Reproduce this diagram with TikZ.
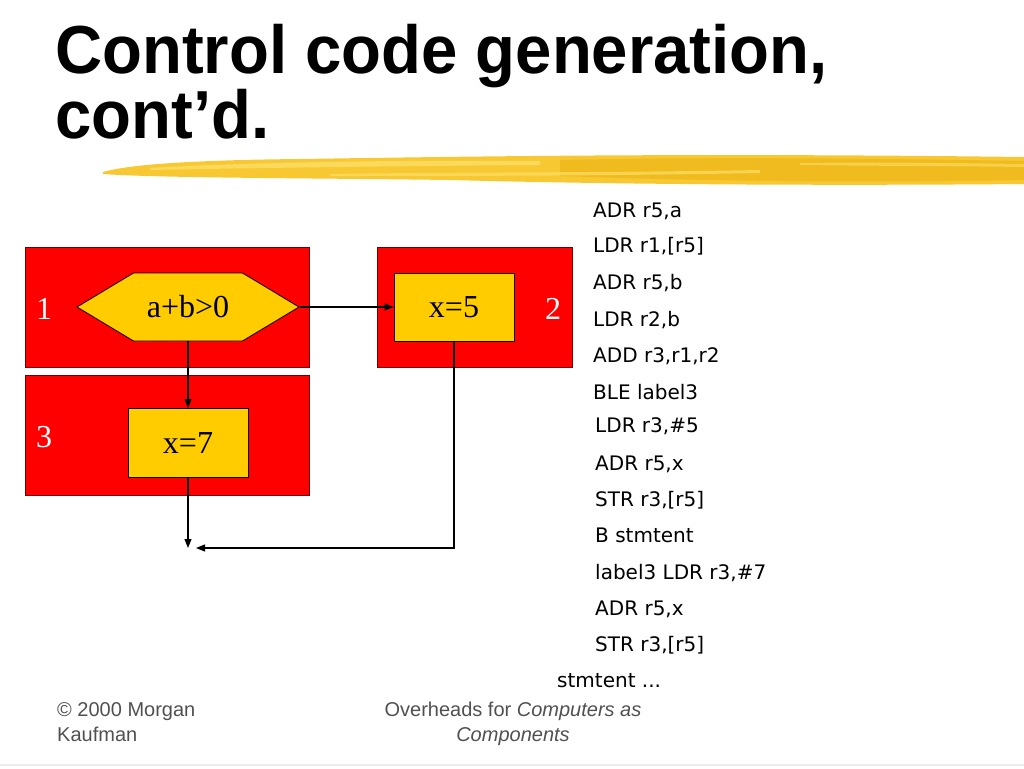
\documentclass[tikz,border=0pt]{standalone}
\usepackage{fontspec}
\setmainfont{Liberation Serif}
\newfontfamily\titlefont{Liberation Sans}
\newfontfamily\codefont{DejaVu Sans}
\usetikzlibrary{arrows.meta}
\usetikzlibrary{shapes.symbols}
\definecolor{blockred}{RGB}{255,0,0}
\definecolor{stmtyellow}{RGB}{255,204,0}
\definecolor{footgray}{RGB}{80,80,80}
\definecolor{brushbase}{RGB}{247,200,50}
\definecolor{brushlight}{RGB}{252,222,100}
\definecolor{brushdark}{RGB}{235,178,15}
\tikzstyle{block}=[fill=blockred, draw=black!55!red, line width=0.6pt, inner sep=0pt]
\tikzstyle{stmt}=[fill=stmtyellow, draw=black, line width=0.8pt, inner sep=0pt, font=\fontsize{32}{36}\selectfont]
\tikzstyle{cond}=[stmt, signal, signal to=west and east, signal pointer angle=62]
\tikzstyle{blocknum}=[text=white, inner sep=0pt, font=\fontsize{32}{36}\selectfont]
\tikzstyle{codeline}=[anchor=base west, inner sep=0pt, font=\codefont\fontsize{20}{24}\selectfont]
\tikzstyle{foot}=[inner sep=0pt, text=footgray, font=\titlefont\fontsize{20}{24}\selectfont]
\tikzstyle{heading}=[anchor=base west, inner sep=0pt, font=\titlefont\bfseries\fontsize{68}{72}\selectfont]
\tikzstyle{flow}=[line width=1.1pt, -{Triangle[length=9pt, width=7pt]}]

\begin{document}
\begin{tikzpicture}[x=1pt, y=-1pt]
    \useasboundingbox (0,0) rectangle (1024,768);
    % title and brush stroke
    \node[heading] (title1) at (55,73) {\scalebox{0.96}[1]{Control code generation,}};
    \node[heading] (title2) at (55,138) {\scalebox{0.96}[1]{cont’d.}};
    \fill[brushbase] (103,172) .. controls (130,164) and (200,160) .. (300,159) .. controls (500,156) and (700,153) .. (1024,157) -- (1024,184) .. controls (800,186) and (600,184) .. (450,180) .. controls (300,178) and (160,178) .. (103,174) -- cycle;
    \fill[brushdark, opacity=0.55] (560,160) .. controls (700,157) and (850,158) .. (1024,161) -- (1024,180) .. controls (850,183) and (700,181) .. (560,176) -- cycle;
    \fill[brushlight, opacity=0.8] (150,168) .. controls (250,162) and (400,160) .. (540,161) -- (540,165) .. controls (400,166) and (250,168) .. (150,170) -- cycle;
    \fill[brushlight, opacity=0.7] (330,174) .. controls (450,172) and (600,173) .. (760,170) -- (760,173) .. controls (600,176) and (450,176) .. (330,176) -- cycle;
    \fill[brushlight, opacity=0.6] (800,163) .. controls (880,162) and (950,163) .. (1024,164) -- (1024,167) .. controls (950,166) and (880,166) .. (800,165) -- cycle;

    % basic blocks
    \node[block, minimum width=284pt, minimum height=120pt] (B1) at (167,307) {};
    \node[block, minimum width=195pt, minimum height=120pt] (B2) at (474.5,307) {};
    \node[block, minimum width=284pt, minimum height=120pt] (B3) at (167,435) {};
    \node[blocknum] (n1) at (44,309) {1};
    \node[blocknum] (n2) at (553,309) {2};
    \node[blocknum] (n3) at (44,437) {3};

    \node[cond, minimum width=222pt, minimum height=68pt] (test) at (188,307) {a+b>0};
    \node[stmt, minimum width=120pt, minimum height=68pt] (x5) at (454,307) {x=5};
    \node[stmt, minimum width=120pt, minimum height=69pt] (x7) at (188,443) {x=7};

    \coordinate (join) at (188,548);
    \coordinate (joinr) at (196,548);
    \draw[flow] (test.east) -- (x5.west);
    \draw[flow] (test.south) -- (x7.north);
    \draw[flow] (x7.south) -- (join);
    \draw[flow] (x5.south) |- (joinr);

    % generated code
    \node[codeline] (c1) at (593,217) {ADR r5,a};
    \node[codeline] (c2) at (593,252) {LDR r1,[r5]};
    \node[codeline] (c3) at (593,289) {ADR r5,b};
    \node[codeline] (c4) at (593,326) {LDR r2,b};
    \node[codeline] (c5) at (593,362) {ADD r3,r1,r2};
    \node[codeline] (c6) at (593,399) {BLE label3};
    \node[codeline] (c7) at (595,432) {LDR r3,\#5};
    \node[codeline] (c8) at (595,470) {ADR r5,x};
    \node[codeline] (c9) at (595,506) {STR r3,[r5]};
    \node[codeline] (c10) at (595,542) {B stmtent};
    \node[codeline] (c11) at (595,579) {label3 LDR r3,\#7};
    \node[codeline] (c12) at (595,615) {ADR r5,x};
    \node[codeline] (c13) at (595,651) {STR r3,[r5]};
    \node[codeline] (c14) at (557,687) {stmtent ...};

    % footer
    \node[foot, anchor=base west] (copy1) at (57,716) {© 2000 Morgan};
    \node[foot, anchor=base west] (copy2) at (57,741) {Kaufman};
    \node[foot, anchor=base] (over1) at (513,716) {Overheads for \textit{Computers as}};
    \node[foot, anchor=base] (over2) at (513,741) {\textit{Components}};
    \draw[black!8, line width=1.5pt] (0,765) -- (1024,765);
\end{tikzpicture}
\end{document}
